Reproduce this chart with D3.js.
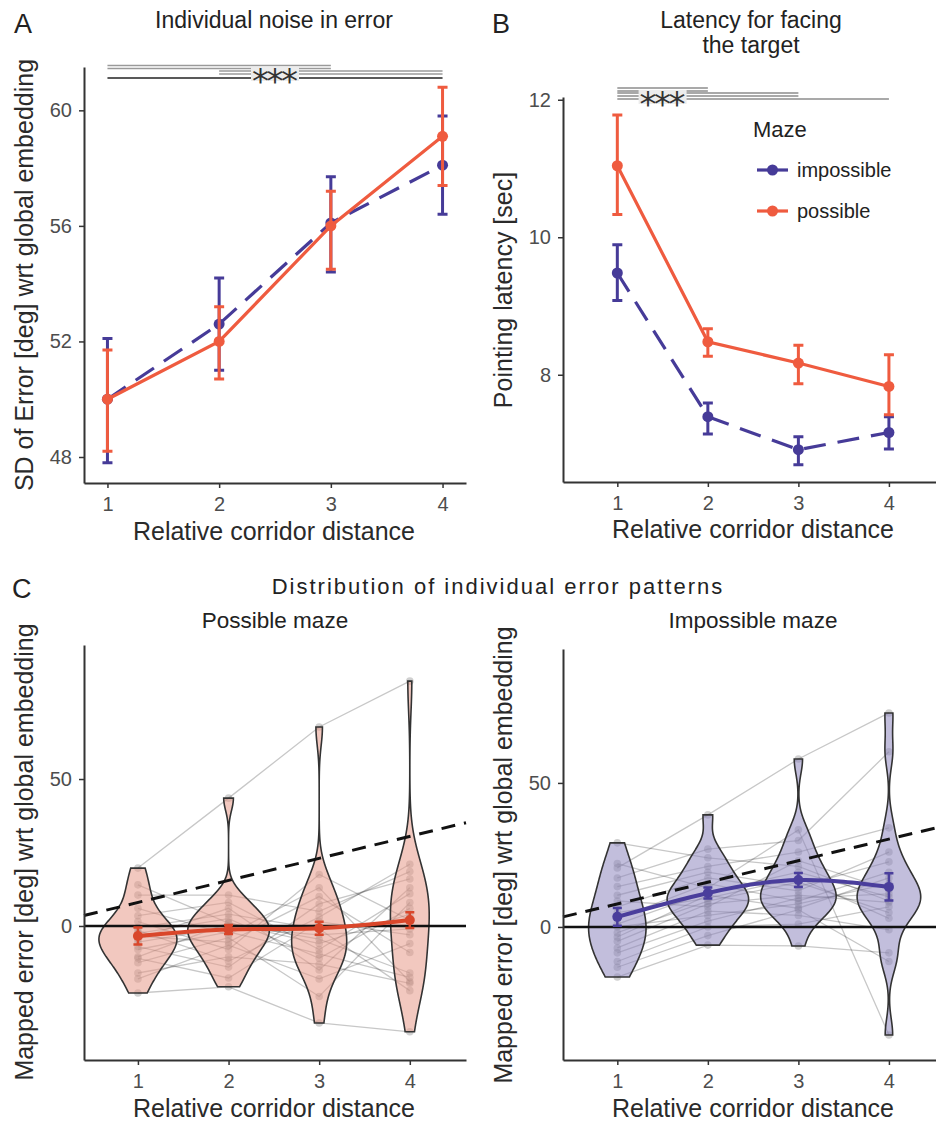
<!DOCTYPE html>
<html>
<head>
<meta charset="utf-8">
<script src="https://cdnjs.cloudflare.com/ajax/libs/d3/7.8.5/d3.min.js"></script>
<style>
    body { margin: 0; background: #fff; }
    svg text { font-family: "Liberation Sans", Arial, sans-serif; }
</style>
</head>
<body>
<svg id="fig" width="936" height="1121"></svg>
<script>
var distance = [1, 2, 3, 4];

// A: SD of error, mean with error bar ends
var sdImpossible = [50.0, 52.6, 56.1, 58.1];
var sdImpossibleLow = [47.8, 51.0, 54.4, 56.4];
var sdImpossibleHigh = [52.1, 54.2, 57.7, 59.8];
var sdPossible = [50.0, 52.0, 56.0, 59.1];
var sdPossibleLow = [48.2, 50.7, 54.5, 57.4];
var sdPossibleHigh = [51.7, 53.2, 57.2, 60.8];

// B: pointing latency (sec)
var latImpossible = [9.48, 7.39, 6.91, 7.16];
var latImpossibleLow = [9.08, 7.14, 6.69, 6.92];
var latImpossibleHigh = [9.89, 7.59, 7.10, 7.39];
var latPossible = [11.04, 8.48, 8.17, 7.83];
var latPossibleLow = [10.33, 8.27, 7.87, 7.42];
var latPossibleHigh = [11.78, 8.67, 8.43, 8.29];

// significance comparisons
var sigPairsA = [[1, 3], [2, 4], [1, 4]];
var sigPairsB = [[1, 2], [1, 3], [1, 4]];
var sigLabel = "***";

// C: mapped error per participant (rows), distance 1..4 (columns)
var possibleErr = [
    [19.7, 43.5, 67.7, 83.3],
    [14, 1, -4.5, -16],
    [10.5, 10.5, 5, 18.5],
    [6, -3, 13, -19],
    [3.5, 8, -8, 11],
    [1.5, -8, 17.5, 2],
    [-0.5, 4, -1, -22],
    [-1.5, -12, 3, 21],
    [-2.5, 2.5, -11, 6],
    [-3.5, -5.5, 10, -9],
    [-4.5, 6, -15, 13],
    [-5.5, -0.5, -3, -1],
    [-7, -14, 7.5, 16],
    [-8, -2, -9.5, -17.5],
    [-10.5, 1, -6, 4],
    [-11, -17.7, 1.5, -3],
    [-12.5, -4, -24, 8],
    [-16, -10.5, -13, -19.5],
    [-18, -6.5, -18, -6],
    [-22.8, -20.7, -33, -36]
];
var impossibleErr = [
    [20.5, 38.9, 58.3, 74.3],
    [29.2, 24, 21, 9],
    [22, 13.5, 33.7, -37.5],
    [17, 27, 30, 60.8],
    [14, 21, 26, 34.4],
    [11, 19, 14, 22.6],
    [9, 7, 23, 13],
    [7, 17, 12.5, 26],
    [5, 10, 17, 3],
    [3, 15, 9, 19],
    [1, 12, 19, 10.4],
    [0, 4, 8, 15],
    [-2, 9, 15.5, 5],
    [-3.5, 11, 6.5, 17],
    [-5, 8, 11, 8.5],
    [-7.3, 5.5, 4, -1],
    [-9, 2, 10, 11.5],
    [-12, 0, 1, 7],
    [-14, -3, 6, -12],
    [-17.4, -6.3, -6.6, -9]
];
var possibleMean = [-3.4, -1.2, -0.8, 2.0];
var possibleSe = [2.9, 1.5, 2.2, 2.7];
var impossibleMean = [3.5, 11.8, 16.3, 13.9];
var impossibleSe = [3.1, 1.9, 2.4, 4.7];
var refSlope = 7.5, refIntercept = 0.5;

var svg = d3.select("#fig"),
    red = "#ef5b3f",
    blue = "#463b98",
    redDark = "#d9472b",
    blueDark = "#4a3e9c";

function styleAxis(sel) {
    sel.select(".domain").attr("stroke", "#333").attr("stroke-width", 2);
    sel.selectAll(".tick line").attr("stroke", "#333").attr("stroke-width", 1.5);
    sel.selectAll(".tick text").attr("fill", "#4d4d4d").style("font-size", "20px");
}

function drawAxes(x, y, yTicks) {
    svg.append("g")
        .attr("transform", "translate(0," + y.range()[0] + ")")
        .call(d3.axisBottom(x).tickValues(distance).tickSize(5).tickPadding(9)
            .tickSizeOuter(0).tickFormat(d3.format("d")))
        .call(styleAxis);
    svg.append("g")
        .attr("transform", "translate(" + x.range()[0] + ",0)")
        .call(d3.axisLeft(y).tickValues(yTicks).tickSize(5).tickPadding(7)
            .tickSizeOuter(0).tickFormat(d3.format("d")))
        .call(styleAxis);
}

function label(txt, x, y, size, opts) {
    opts = opts || {};
    var t = svg.append("text")
        .attr("x", x).attr("y", y)
        .attr("text-anchor", opts.anchor || "middle")
        .attr("fill", opts.fill || "#222")
        .style("font-size", size + "px")
        .text(txt);
    if (opts.rotate) {
        t.attr("x", 0).attr("y", 0)
            .attr("transform", "translate(" + x + "," + y + ") rotate(-90)");
    }
    if (opts.spacing) {
        t.style("letter-spacing", opts.spacing + "px");
    }
    return t;
}

function drawSeries(x, y, mean, low, high, color, dash) {
    var pts = distance.map(function (d, i) {
        return { d: d, m: mean[i], lo: low[i], hi: high[i] };
    });
    var g = svg.append("g");
    g.append("path")
        .datum(pts)
        .attr("fill", "none")
        .attr("stroke", color)
        .attr("stroke-width", 3.2)
        .attr("stroke-dasharray", dash)
        .attr("d", d3.line().x(function (p) { return x(p.d); }).y(function (p) { return y(p.m); }));
    g.selectAll(".eb")
        .data(pts)
        .enter()
        .append("path")
        .attr("fill", "none")
        .attr("stroke", color)
        .attr("stroke-width", 3)
        .attr("d", function (p) {
            var cx = x(p.d);
            return "M" + (cx - 5) + "," + y(p.hi) + "h10" +
                "M" + cx + "," + y(p.hi) + "V" + y(p.lo) +
                "M" + (cx - 5) + "," + y(p.lo) + "h10";
        });
    g.selectAll("circle")
        .data(pts)
        .enter()
        .append("circle")
        .attr("cx", function (p) { return x(p.d); })
        .attr("cy", function (p) { return y(p.m); })
        .attr("r", 5.5)
        .attr("fill", color);
}

// pairs drawn as thin bracket lines above the panel, levels in px
function drawSig(x, pairs, levels, colors, doubled, labelIdx, labelY) {
    var g = svg.append("g");
    pairs.forEach(function (p, i) {
        var ys = doubled[i] ? [levels[i] - 1.5, levels[i] + 1.5] : [levels[i]];
        ys.forEach(function (yy) {
            g.append("line")
                .attr("x1", x(p[0])).attr("x2", x(p[1]))
                .attr("y1", yy).attr("y2", yy)
                .attr("stroke", colors[i]).attr("stroke-width", 1.6);
        });
    });
    var cx = (x(pairs[labelIdx][0]) + x(pairs[labelIdx][1])) / 2;
    g.append("rect")
        .attr("x", cx - 24).attr("y", labelY - 7)
        .attr("width", 48).attr("height", 14)
        .attr("fill", "#ececec");
    g.append("text")
        .attr("x", cx - 23).attr("y", labelY + 19)
        .attr("textLength", 46).attr("lengthAdjust", "spacing")
        .style("font-family", "DejaVu Sans")
        .style("font-size", "34px")
        .attr("fill", "#333")
        .text(sigLabel);
}

// ---------- Panel A ----------
var xA = d3.scaleLinear().domain([0.79, 4.21]).range([84, 466]),
    yA = d3.scaleLinear().domain([47.1, 61.5]).range([483, 67]);
drawAxes(xA, yA, [48, 52, 56, 60]);
drawSig(xA, sigPairsA, [67, 72.5, 78], ["#9a9a9a", "#9a9a9a", "#222"], [true, true, false], 2, 74);
drawSeries(xA, yA, sdImpossible, sdImpossibleLow, sdImpossibleHigh, blue, "22,12");
drawSeries(xA, yA, sdPossible, sdPossibleLow, sdPossibleHigh, red, null);
label("A", 14, 33, 27, { anchor: "start" });
label("Individual noise in error", 274, 28, 23);
label("SD of Error [deg] wrt global embedding", 33, 275, 25, { rotate: true, fill: "#2a2a2a" });
label("Relative corridor distance", 274, 540, 25, { fill: "#2a2a2a" });

// ---------- Panel B ----------
var xB = d3.scaleLinear().domain([0.4, 4.52]).range([563, 936]),
    yB = d3.scaleLinear().domain([6.44, 12.04]).range([482, 97]);
drawAxes(xB, yB, [8, 10, 12]);
drawSig(xB, sigPairsB, [89.5, 94.5, 99], ["#8c8c8c", "#8c8c8c", "#8c8c8c"], [true, true, false], 0, 97);
drawSeries(xB, yB, latImpossible, latImpossibleLow, latImpossibleHigh, blue, "22,12");
drawSeries(xB, yB, latPossible, latPossibleLow, latPossibleHigh, red, null);
label("B", 492, 33, 27, { anchor: "start" });
label("Latency for facing", 751, 28, 23);
label("the target", 751, 53, 23);
label("Pointing latency [sec]", 512, 290, 25, { rotate: true, fill: "#2a2a2a" });
label("Relative corridor distance", 753, 538, 25, { fill: "#2a2a2a" });

// legend
label("Maze", 753, 137, 22, { anchor: "start" });
[["impossible", blue], ["possible", red]].forEach(function (m, i) {
    var cy = 170 + i * 41;
    svg.append("line").attr("x1", 757).attr("x2", 788).attr("y1", cy).attr("y2", cy)
        .attr("stroke", m[1]).attr("stroke-width", 3.2);
    svg.append("circle").attr("cx", 772.5).attr("cy", cy).attr("r", 5.5).attr("fill", m[1]);
    label(m[0], 797, cy + 7, 20, { anchor: "start" });
});

// ---------- Panel C ----------
function density(vals) {
    var s = vals.slice().sort(d3.ascending),
        n = s.length,
        sd = d3.deviation(s),
        iqr = d3.quantileSorted(s, 0.75) - d3.quantileSorted(s, 0.25),
        bw = 0.9 * Math.min(sd, iqr / 1.34) * Math.pow(n, -0.2),
        lo = s[0],
        hi = s[n - 1];
    return d3.range(512).map(function (i) {
        var t = lo + (hi - lo) * i / 511;
        var dens = d3.sum(s, function (v) {
            var z = (t - v) / bw;
            return Math.exp(-0.5 * z * z);
        }) / (n * bw * Math.sqrt(2 * Math.PI));
        return { v: t, dens: dens };
    });
}

function drawViolinPanel(x, y, rows, mean, se, fill, lineColor) {
    var cols = distance.map(function (d, j) {
            return rows.map(function (r) { return r[j]; });
        }),
        profiles = cols.map(density),
        maxDens = d3.max(profiles, function (p) {
            return d3.max(p, function (q) { return q.dens; });
        }),
        unit = x(2) - x(1),
        g = svg.append("g");

    g.selectAll(".subj")
        .data(rows)
        .enter()
        .append("path")
        .attr("fill", "none")
        .attr("stroke", "#000")
        .attr("stroke-opacity", 0.22)
        .attr("stroke-width", 1.3)
        .attr("d", d3.line()
            .x(function (v, j) { return x(distance[j]); })
            .y(function (v) { return y(v); }));

    rows.forEach(function (r) {
        g.selectAll(null)
            .data(r)
            .enter()
            .append("circle")
            .attr("cx", function (v, j) { return x(distance[j]); })
            .attr("cy", function (v) { return y(v); })
            .attr("r", 3.8)
            .attr("fill", "#777")
            .attr("fill-opacity", 0.35);
    });

    g.selectAll(".violin")
        .data(profiles)
        .enter()
        .append("path")
        .attr("fill", fill)
        .attr("fill-opacity", 0.55)
        .attr("stroke", "#333")
        .attr("stroke-width", 1.6)
        .attr("d", function (p, j) {
            var cx = x(distance[j]);
            return d3.area()
                .y(function (q) { return y(q.v); })
                .x0(function (q) { return cx - q.dens / maxDens * 0.45 * unit; })
                .x1(function (q) { return cx + q.dens / maxDens * 0.45 * unit; })(p);
        });

    var xd = x.domain();
    g.append("line")
        .attr("x1", x.range()[0]).attr("x2", x.range()[1])
        .attr("y1", y(0)).attr("y2", y(0))
        .attr("stroke", "#111").attr("stroke-width", 2.6);
    g.append("line")
        .attr("x1", x(xd[0])).attr("x2", x(xd[1]))
        .attr("y1", y(refIntercept + refSlope * xd[0]))
        .attr("y2", y(refIntercept + refSlope * xd[1]))
        .attr("stroke", "#111").attr("stroke-width", 3)
        .attr("stroke-dasharray", "14,9");

    var pts = distance.map(function (d, i) { return { d: d, m: mean[i], se: se[i] }; });
    g.append("path")
        .datum(pts)
        .attr("fill", "none")
        .attr("stroke", lineColor)
        .attr("stroke-width", 4)
        .attr("d", d3.line().curve(d3.curveNatural)
            .x(function (p) { return x(p.d); })
            .y(function (p) { return y(p.m); }));
    g.selectAll(".eb")
        .data(pts)
        .enter()
        .append("path")
        .attr("fill", "none")
        .attr("stroke", lineColor)
        .attr("stroke-width", 2.5)
        .attr("d", function (p) {
            var cx = x(p.d), t = y(p.m + p.se), b = y(p.m - p.se);
            return "M" + (cx - 4.5) + "," + t + "h9M" + cx + "," + t + "V" + b +
                "M" + (cx - 4.5) + "," + b + "h9";
        });
    g.selectAll(".mp")
        .data(pts)
        .enter()
        .append("circle")
        .attr("cx", function (p) { return x(p.d); })
        .attr("cy", function (p) { return y(p.m); })
        .attr("r", 5)
        .attr("fill", lineColor);

    drawAxes(x, y, [0, 50]);
}

var xC1 = d3.scaleLinear().domain([0.405, 4.62]).range([84, 466]),
    yC1 = d3.scaleLinear().domain([-45.6, 95.6]).range([1060, 645]),
    xC2 = d3.scaleLinear().domain([0.4, 4.52]).range([563, 936]),
    yC2 = d3.scaleLinear().domain([-46.2, 96.5]).range([1060, 649]);

drawViolinPanel(xC1, yC1, possibleErr, possibleMean, possibleSe, "#e89a8a", redDark);
drawViolinPanel(xC2, yC2, impossibleErr, impossibleMean, impossibleSe, "#8f89c0", blueDark);

label("C", 12, 598, 27, { anchor: "start" });
label("Distribution of individual error patterns", 498, 594, 22, { spacing: 2 });
label("Possible maze", 275, 628, 22.5);
label("Impossible maze", 753, 628, 22.5);
label("Mapped error [deg] wrt global embedding", 33, 852, 25, { rotate: true, fill: "#2a2a2a" });
label("Mapped error [deg] wrt global embedding", 512, 855, 25, { rotate: true, fill: "#2a2a2a" });
label("Relative corridor distance", 274, 1117, 25, { fill: "#2a2a2a" });
label("Relative corridor distance", 753, 1117, 25, { fill: "#2a2a2a" });
</script>
</body>
</html>
